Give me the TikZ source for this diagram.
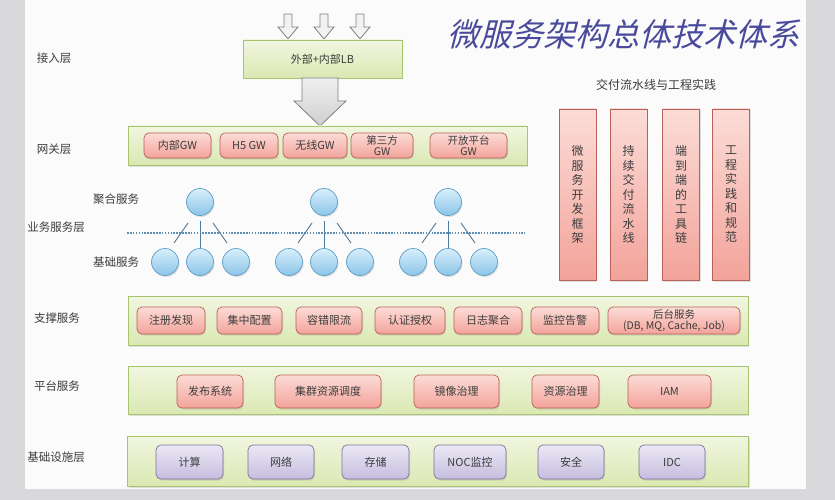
\documentclass[tikz,border=0pt]{standalone}
\usepackage{fontspec}
\setmainfont{Noto Sans CJK SC}
\newfontfamily\titlefont[FakeSlant=0.25]{Noto Sans CJK SC}
\usetikzlibrary{shadows}
\definecolor{bgout}{HTML}{D9D9DB}
\definecolor{slide}{HTML}{FBFBFB}
\definecolor{layerdraw}{HTML}{A9C46E}
\definecolor{layertop}{HTML}{F1F6E0}
\definecolor{layerbot}{HTML}{DAE8B2}
\definecolor{pinkdraw}{HTML}{B9605A}
\definecolor{pinktop}{HTML}{FCDCD7}
\definecolor{pinkbot}{HTML}{F2A39A}
\definecolor{purpdraw}{HTML}{7F7199}
\definecolor{purptop}{HTML}{EBE8F5}
\definecolor{purpbot}{HTML}{C5BDDF}
\definecolor{circdraw}{HTML}{5E9FC9}
\definecolor{circtop}{HTML}{D8EFFB}
\definecolor{circbot}{HTML}{8CC4E8}
\definecolor{arrdraw}{HTML}{7F7F7F}
\definecolor{dotc}{HTML}{5F8FB5}
\definecolor{titlec}{HTML}{4A4A9C}
\definecolor{textc}{HTML}{3C3C3C}
\begin{document}
\begin{tikzpicture}[x=1pt,y=-1pt,
  shad/.style={drop shadow={opacity=0.22,shadow xshift=1pt,shadow yshift=-1.5pt}},
  layer/.style={draw=layerdraw,line width=0.8pt,top color=layertop,bottom color=layerbot,inner sep=0pt,shad},
  pill/.style={draw=pinkdraw,line width=0.7pt,rounded corners=5pt,top color=pinktop,bottom color=pinkbot,inner sep=0pt,text=textc,font=\fontsize{11}{12.5}\selectfont,align=center,shad},
  purp/.style={draw=purpdraw,line width=0.7pt,rounded corners=5pt,top color=purptop,bottom color=purpbot,inner sep=0pt,text=textc,font=\fontsize{11}{12.5}\selectfont,align=center,shad},
  column/.style={draw=pinkdraw,line width=0.7pt,top color=pinktop,bottom color=pinkbot,inner sep=0pt,minimum width=37pt,minimum height=171pt,text=textc,font=\fontsize{12}{14.5}\selectfont,align=center,shad},
  bubble/.style={circle,draw=circdraw,line width=0.7pt,top color=circtop,bottom color=circbot,minimum size=27pt,inner sep=0pt,shad},
  lbl/.style={text=textc,font=\fontsize{11.5}{13}\selectfont},
  stub/.style={draw=dotc!85!black,line width=0.9pt},
  smallarr/.style={draw=arrdraw,line width=0.8pt,fill=white!90!gray},
  bigarr/.style={draw=arrdraw,line width=0.8pt,top color=white!88!gray,bottom color=white!62!gray}
]
\useasboundingbox (0,0) rectangle (835,500);
% background
\fill[bgout] (0,0) rectangle (835,500);
\fill[slide] (25,0) rectangle (806,489);

% title
\node[text=titlec,font=\titlefont\fontsize{32}{34}\selectfont] (title) at (623,34) {微服务架构总体技术体系};

% left labels
\node[lbl] (l1) at (54,58) {接入层};
\node[lbl] (l2) at (54,149) {网关层};
\node[lbl] (l3) at (56,227) {业务服务层};
\node[lbl] (l3a) at (116,199) {聚合服务};
\node[lbl] (l3b) at (116,262) {基础服务};
\node[lbl] (l4) at (57,318) {支撑服务};
\node[lbl] (l5) at (57,386) {平台服务};
\node[lbl] (l6) at (56,457) {基础设施层};

% small arrows
\foreach \cx in {288,324,360}{
  \draw[smallarr] (\cx-4,14) -- (\cx+4,14) -- (\cx+4,27) -- (\cx+10,27) -- (\cx,39) -- (\cx-10,27) -- (\cx-4,27) -- cycle;
}
% LB box
\node[layer,minimum width=159pt,minimum height=38pt,text=textc,font=\fontsize{11}{13}\selectfont] (lb) at (322.5,59) {外部+内部LB};
% big arrow
\draw[bigarr] (302,78) -- (338,78) -- (338,101) -- (346,101) -- (320,126) -- (294,101) -- (302,101) -- cycle;

% gateway layer
\node[layer,minimum width=399pt,minimum height=39pt] (gw) at (327.5,145.5) {};
\node[pill,minimum width=67pt,minimum height=25pt] (g1) at (177.5,145.5) {内部GW};
\node[pill,minimum width=58pt,minimum height=25pt] (g2) at (249,145.5) {H5 GW};
\node[pill,minimum width=64pt,minimum height=25pt] (g3) at (315,145.5) {无线GW};
\node[pill,minimum width=62pt,minimum height=25pt,font=\fontsize{10.5}{11}\selectfont] (g4) at (382,145.5) {第三方\\GW};
\node[pill,minimum width=77pt,minimum height=25pt,font=\fontsize{10.5}{11}\selectfont] (g5) at (468.5,145.5) {开放平台\\GW};

% delivery pipeline
\node[lbl,font=\fontsize{12}{13}\selectfont] (dtitle) at (656,85) {交付流水线与工程实践};
\node[column] (c1) at (577.5,194.5) {微\\服\\务\\开\\发\\框\\架};
\node[column] (c2) at (628.5,194.5) {持\\续\\交\\付\\流\\水\\线};
\node[column] (c3) at (681,194.5) {端\\到\\端\\的\\工\\具\\链};
\node[column] (c4) at (731,194.5) {工\\程\\实\\践\\和\\规\\范};

% business services
\draw[dotc,line width=2.6pt,dash pattern=on 1.6pt off 1.3pt] (127,233) -- (525,233);
\node[bubble] (t1) at (200,202) {};
\node[bubble] (t2) at (324,202) {};
\node[bubble] (t3) at (448,202) {};
\node[bubble] (b1) at (165,262) {};
\node[bubble] (b2) at (200,262) {};
\node[bubble] (b3) at (236,262) {};
\node[bubble] (b4) at (289,262) {};
\node[bubble] (b5) at (324,262) {};
\node[bubble] (b6) at (360,262) {};
\node[bubble] (b7) at (413,262) {};
\node[bubble] (b8) at (448,262) {};
\node[bubble] (b9) at (484,262) {};
\foreach \t/\b in {t1/b2,t2/b5,t3/b8}{
  \draw[stub,shorten <=5pt] (\t.south) -- (\b.north);
  \draw[stub] ([shift={(-12,21)}]\t.center) -- ([shift={(-26,41)}]\t.center);
  \draw[stub] ([shift={(13,21)}]\t.center) -- ([shift={(27,41)}]\t.center);
}

% support services
\node[layer,minimum width=620pt,minimum height=49pt] (sup) at (438,320.5) {};
\node[pill,minimum width=68pt,minimum height=27pt] (s1) at (171,320.5) {注册发现};
\node[pill,minimum width=65pt,minimum height=27pt] (s2) at (249.5,320.5) {集中配置};
\node[pill,minimum width=66pt,minimum height=27pt] (s3) at (329,320.5) {容错限流};
\node[pill,minimum width=70pt,minimum height=27pt] (s4) at (410,320.5) {认证授权};
\node[pill,minimum width=68pt,minimum height=27pt] (s5) at (488,320.5) {日志聚合};
\node[pill,minimum width=68pt,minimum height=27pt] (s6) at (565,320.5) {监控告警};
\node[pill,minimum width=132pt,minimum height=27pt,font=\fontsize{10.5}{11.5}\selectfont] (s7) at (674,320.5) {后台服务\\(DB, MQ, Cache, Job)};

% platform services
\node[layer,minimum width=620pt,minimum height=48pt] (plat) at (438,390.5) {};
\node[pill,minimum width=66pt,minimum height=33pt] (p1) at (210,391.5) {发布系统};
\node[pill,minimum width=106pt,minimum height=33pt] (p2) at (328,391.5) {集群资源调度};
\node[pill,minimum width=85pt,minimum height=33pt] (p3) at (456.5,391.5) {镜像治理};
\node[pill,minimum width=67pt,minimum height=33pt] (p4) at (565.5,391.5) {资源治理};
\node[pill,minimum width=83pt,minimum height=33pt] (p5) at (669.5,391.5) {IAM};

% infrastructure
\node[layer,minimum width=621pt,minimum height=50pt] (infra) at (438,461.5) {};
\node[purp,minimum width=67pt,minimum height=34pt] (i1) at (189.5,462) {计算};
\node[purp,minimum width=66pt,minimum height=34pt] (i2) at (281,462) {网络};
\node[purp,minimum width=67pt,minimum height=34pt] (i3) at (375.5,462) {存储};
\node[purp,minimum width=72pt,minimum height=34pt] (i4) at (470,462) {NOC监控};
\node[purp,minimum width=66pt,minimum height=34pt] (i5) at (571,462) {安全};
\node[purp,minimum width=66pt,minimum height=34pt] (i6) at (672,462) {IDC};
\end{tikzpicture}
\end{document}
